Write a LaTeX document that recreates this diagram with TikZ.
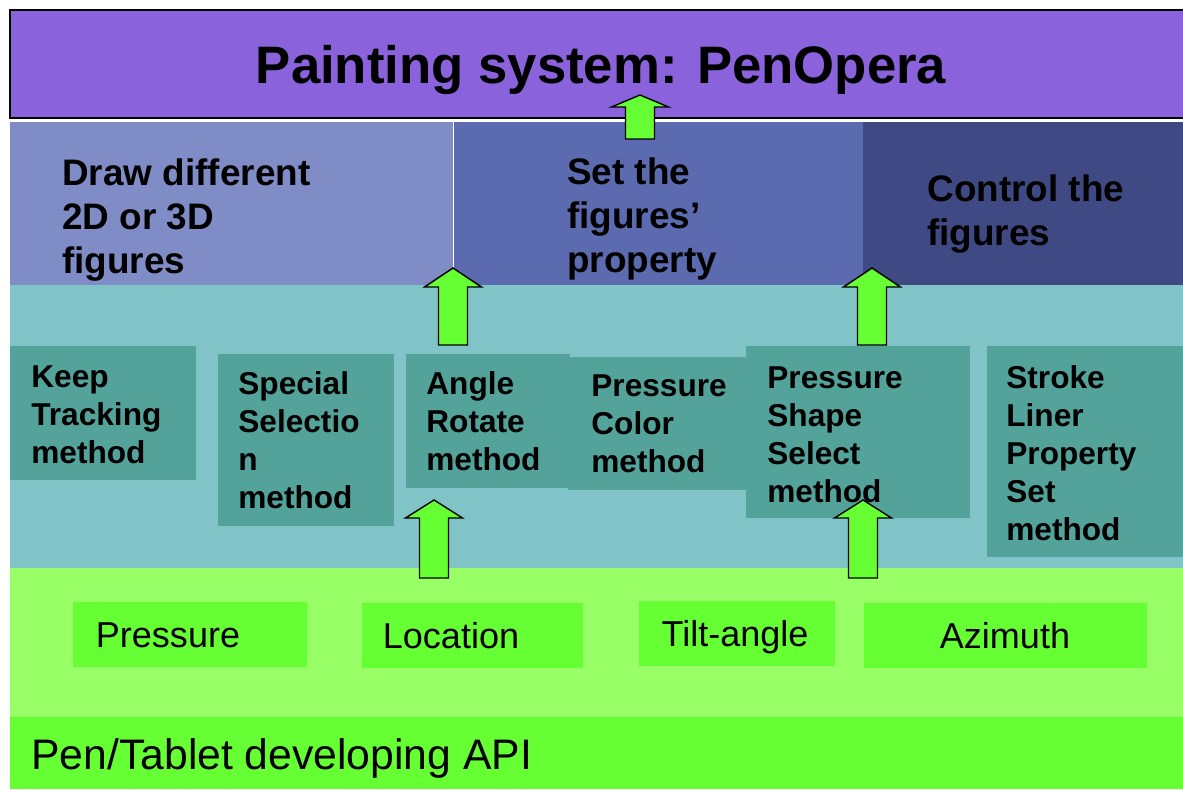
\documentclass[tikz,border=0pt]{standalone}
\usepackage{fontspec}
\setmainfont{Liberation Sans}
\usepackage{tikz}
\usetikzlibrary{calc}
\definecolor{toppurple}{RGB}{138,99,220}
\definecolor{panelA}{RGB}{127,140,198}
\definecolor{panelB}{RGB}{92,107,176}
\definecolor{panelC}{RGB}{63,74,133}
\definecolor{tealband}{RGB}{128,196,200}
\definecolor{methodbox}{RGB}{83,163,155}
\definecolor{lightgreen}{RGB}{153,255,102}
\definecolor{apigreen}{RGB}{102,255,51}
\newcommand{\lines}[1]{\begin{tabular}[t]{@{}l@{}}#1\end{tabular}}
% block arrow: foot, tip, head length
\newcommand{\blockup}[3]{\draw[arr] ($(#1)+(-14.5,0)$) -- ($(#2)+(-14.5,#3)$) -- ($(#2)+(-28.5,#3)$) -- (#2) -- ($(#2)+(28.5,#3)$) -- ($(#2)+(14.5,#3)$) -- ($(#1)+(14.5,0)$) -- cycle;}

\begin{document}
\begin{tikzpicture}[x=0.02cm, y=-0.02cm]
\tikzstyle{title}=[inner sep=0pt, font=\fontsize{30}{36}\selectfont\bfseries];
\tikzstyle{ptxt}=[inner sep=0pt, anchor=base west, font=\fontsize{21}{25}\selectfont\bfseries];
\tikzstyle{mtxt}=[inner sep=0pt, anchor=base west, font=\fontsize{18}{21.5}\selectfont\bfseries];
\tikzstyle{itxt}=[inner sep=0pt, anchor=base, font=\fontsize{20.5}{24}\selectfont];
\tikzstyle{arr}=[fill=apigreen, draw=black, line width=0.8pt, line join=miter];
\useasboundingbox (0,0) rectangle (1183,790);
\fill[white] (0,0) rectangle (1183,790);
% layers
\fill[toppurple] (10,10) rectangle (1183,118);
\draw[line width=1.2pt] (1183,10) -- (10,10) -- (10,118) -- (1183,118);
\fill[panelA] (10,122) rectangle (453,285);
\fill[panelB] (454,122) rectangle (863,285);
\fill[panelC] (863,122) rectangle (1183,285);
\fill[tealband] (10,285) rectangle (1183,568);
\fill[lightgreen] (10,568) rectangle (1183,717);
\fill[apigreen] (10,717) rectangle (1183,789);
% method boxes
\fill[methodbox] (10,346) rectangle (196,480);
\fill[methodbox] (218,354) rectangle (394,526);
\fill[methodbox] (406,354) rectangle (570,488);
\fill[methodbox] (568,357) rectangle (748,490);
\fill[methodbox] (746,346) rectangle (970,518);
\fill[methodbox] (987,346) rectangle (1183,557);
% input boxes
\fill[apigreen] (73,602) rectangle (307,667);
\fill[apigreen] (362,603) rectangle (583,668);
\fill[apigreen] (639,601) rectangle (835,666);
\fill[apigreen] (864,603) rectangle (1147,668);
% arrows
\coordinate (f1) at (640,139); \coordinate (t1) at (640,95);
\coordinate (f2) at (453,345); \coordinate (t2) at (453,268);
\coordinate (f3) at (872,345); \coordinate (t3) at (872,268);
\coordinate (f4) at (434,578); \coordinate (t4) at (434,500);
\coordinate (f5) at (863,578); \coordinate (t5) at (863,500);
\blockup{f1}{t1}{12}
\blockup{f2}{t2}{19}
\blockup{f3}{t3}{19}
\blockup{f4}{t4}{18}
\blockup{f5}{t5}{18}
% texts
\node[title, anchor=base] (system) at (601,84) {Painting system: PenOpera};
\node[ptxt] (draw) at (62,186) {\lines{Draw different\\2D or 3D\\figures}};
\node[ptxt] (set) at (567,185) {\lines{Set the\\figures’\\property}};
\node[ptxt] (control) at (927,202) {\lines{Control the\\figures}};
\node[mtxt] (keep) at (31,388) {\lines{Keep\\Tracking\\method}};
\node[mtxt] (special) at (238,395) {\lines{Special\\Selectio\\n\\method}};
\node[mtxt] (angle) at (426,395) {\lines{Angle\\Rotate\\method}};
\node[mtxt] (color) at (591,397) {\lines{Pressure\\Color\\method}};
\node[mtxt] (shape) at (767,389) {\lines{Pressure\\Shape\\Select\\method}};
\node[mtxt] (stroke) at (1006,389) {\lines{Stroke\\Liner\\Property\\Set\\method}};
\node[itxt] (pressure) at (168,647) {Pressure};
\node[itxt] (location) at (451,648) {Location};
\node[itxt] (tilt) at (735,646) {Tilt-angle};
\node[itxt] (azimuth) at (1005,648) {Azimuth};
\node[inner sep=0pt, anchor=base west, font=\fontsize{24.3}{28}\selectfont] (api) at (31,769) {Pen/Tablet developing API};
\end{tikzpicture}
\end{document}
